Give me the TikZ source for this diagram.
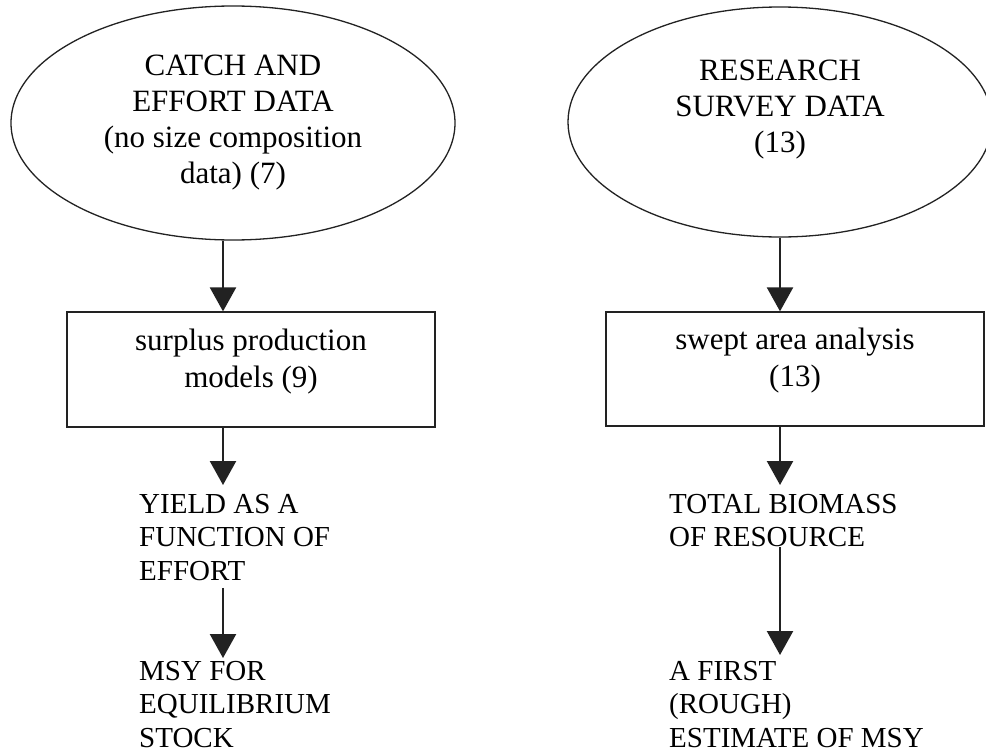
\documentclass[tikz,border=0pt]{standalone}
\usepackage{fontspec}
\setmainfont{Liberation Serif}
\usetikzlibrary{shapes.geometric, arrows.meta}
\definecolor{ink}{HTML}{222222}

\begin{document}
\begin{tikzpicture}[
    x=1pt, y=-1pt,
    % Node styles
    data/.style={
        ellipse, draw=ink, line width=1.3pt, inner sep=0pt,
        font=\fontsize{31}{36}\selectfont, align=center
    },
    process/.style={
        rectangle, draw=ink, line width=1.3pt, inner sep=0pt,
        font=\fontsize{31}{37}\selectfont, align=center, text depth=23pt
    },
    result/.style={
        anchor=north west, inner sep=0pt,
        font=\fontsize{29}{33.5}\selectfont, align=left
    },
    arrow/.style={-{Triangle[width=26pt, length=24pt]}, line width=2.4pt, ink}
]

\path[use as bounding box, fill=white] (0,0) rectangle (986,755);

% ============================================================
% Left column: catch and effort
% ============================================================

\node[data, minimum width=444pt, minimum height=234pt] (catch) at (233,123)
    {CATCH AND\\EFFORT DATA\\(no size composition\\data) (7)};

\node[process, minimum width=368pt, minimum height=115pt] (surplus) at (251,369.5)
    {surplus production\\models (9)};

\node[result] (yield) at (139,494) {YIELD AS A\\FUNCTION OF\\EFFORT};
\node[result] (msy) at (139,661) {MSY FOR\\EQUILIBRIUM\\STOCK};

% ============================================================
% Right column: research survey
% ============================================================

\node[data, minimum width=424pt, minimum height=230pt, text depth=31pt] (survey) at (780,122)
    {RESEARCH\\SURVEY DATA\\(13)};

\node[process, minimum width=378pt, minimum height=114pt] (swept) at (795,369)
    {swept area analysis\\(13)};

\node[result] (biomass) at (669,494) {TOTAL BIOMASS\\OF RESOURCE};
\node[result] (estimate) at (669,661) {A FIRST\\(ROUGH)\\ESTIMATE OF MSY};

% ============================================================
% Arrows
% ============================================================

\coordinate (lcol) at (223,0);
\coordinate (rcol) at (780,0);

\draw[arrow] (catch.south -| lcol) -- (surplus.north -| lcol);
\draw[arrow, shorten >=9pt] (surplus.south -| lcol) -- (yield.north -| lcol);
\draw[arrow, shorten <=7pt, shorten >=3pt] (yield.south -| lcol) -- (msy.north -| lcol);

\draw[arrow] (survey.south -| rcol) -- (swept.north -| rcol);
\draw[arrow, shorten >=9pt] (swept.south -| rcol) -- (biomass.north -| rcol);
\draw[arrow, shorten >=6pt] (biomass.south -| rcol) -- (estimate.north -| rcol);

\end{tikzpicture}
\end{document}
